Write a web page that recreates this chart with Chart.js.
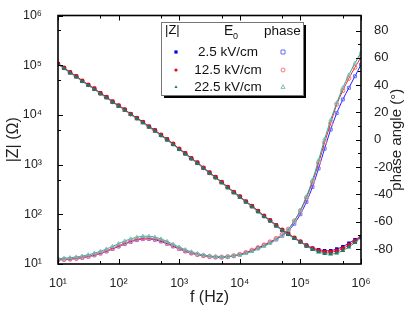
<!DOCTYPE html>
<html>
<head>
<meta charset="utf-8">
<script src="https://cdn.jsdelivr.net/npm/chart.js@4.4.1/dist/chart.umd.min.js"></script>
<style>
  html, body { margin: 0; padding: 0; background: #fff; }
</style>
</head>
<body>
<canvas id="impedanceChart" width="415" height="314"></canvas>
<script>
// measured frequencies (Hz), 10 points per decade
const freq = [
  10, 12.6, 15.8, 20.0, 25.1, 31.6, 39.8, 50.1, 63.1, 79.4,
  100, 126, 158, 200, 251, 316, 398, 501, 631, 794,
  1000, 1259, 1585, 1995, 2512, 3162, 3981, 5012, 6310, 7943,
  10000, 12589, 15849, 19953, 25119, 31623, 39811, 50119, 63096, 79433,
  100000, 125893, 158489, 199526, 251189, 316228, 398107, 501187, 630957, 794328, 1000000
];

// |Z| in ohm
const zLow = [
  107000, 89100, 72400, 60300, 49000, 40700, 33900, 27500, 22900, 18600,
  15500, 12900, 10500, 8710, 7240, 5890, 4900, 3980, 3240, 2630,
  2090, 1700, 1350, 1100, 871, 692, 562, 447, 355, 282,
  229, 182, 148, 117, 93.3, 75.9, 60.3, 49.0, 40.7, 33.9,
  28.2, 24.0, 20.9, 19.5, 18.6, 18.6, 20.0, 22.4, 26.3, 30.9, 35.5
];
const zMid = [
  106000, 88200, 71700, 59700, 48500, 40300, 33600, 27200, 22700, 18400,
  15300, 12800, 10400, 8620, 7170, 5830, 4850, 3940, 3210, 2600,
  2070, 1680, 1340, 1090, 862, 685, 556, 443, 351, 279,
  227, 180, 146, 116, 92.4, 75.1, 59.7, 48.5, 40.3, 33.6,
  28.2, 23.4, 20.4, 18.6, 17.4, 17.4, 18.2, 20.4, 24.0, 28.8, 34.7
];
const zHigh = [
  103000, 85500, 69500, 57900, 47000, 39100, 32500, 26400, 22000, 17900,
  14900, 12400, 10100, 8360, 6950, 5650, 4700, 3820, 3110, 2520,
  2010, 1630, 1300, 1060, 836, 664, 540, 429, 341, 271,
  220, 175, 142, 112, 89.6, 72.9, 57.9, 47.0, 39.1, 32.5,
  27.5, 22.9, 19.5, 17.4, 16.2, 15.8, 16.6, 18.6, 21.9, 26.9, 33.9
];

// phase angle in degrees
const phLow = [
  -88.0, -87.8, -87.5, -87.0, -86.4, -85.6, -84.6, -83.3, -81.8, -80.0,
  -78.2, -76.4, -74.8, -73.5, -72.8, -72.7, -73.3, -74.5, -76.2, -78.1,
  -80.0, -81.7, -83.1, -84.2, -85.0, -85.6, -86.0, -86.1, -85.8, -85.1,
  -84.1, -82.8, -81.2, -79.3, -77.3, -75.2, -73.0, -70.3, -66.8, -61.5,
  -54.5, -45.5, -34.5, -21.0, -6.5, 7.5, 19.5, 29.5, 38.0, 46.5, 55.0
];
const phMid = [
  -87.8, -87.6, -87.3, -86.8, -86.2, -85.3, -84.2, -82.9, -81.3, -79.5,
  -77.6, -75.8, -74.2, -72.9, -72.2, -72.1, -72.7, -73.9, -75.6, -77.6,
  -79.6, -81.4, -82.9, -84.1, -84.9, -85.5, -85.9, -86.0, -85.7, -85.0,
  -84.0, -82.6, -80.9, -79.0, -77.0, -74.8, -72.3, -69.3, -65.5, -59.5,
  -52.0, -42.5, -31.0, -17.0, -2.0, 12.0, 26.0, 36.0, 45.0, 53.0, 60.5
];
const phHigh = [
  -87.0, -86.8, -86.4, -85.9, -85.2, -84.3, -83.1, -81.7, -80.0, -78.1,
  -76.1, -74.2, -72.6, -71.4, -70.7, -70.7, -71.4, -72.7, -74.5, -76.5,
  -78.6, -80.5, -82.1, -83.4, -84.4, -85.1, -85.6, -85.8, -85.6, -85.0,
  -84.5, -83.3, -81.8, -80.0, -78.0, -75.8, -73.2, -70.0, -65.8, -59.5,
  -51.5, -41.5, -29.5, -15.0, 0.5, 14.5, 27.0, 38.0, 47.5, 56.0, 64.0
];

const fieldNames = ['2.5 kV/cm', '12.5 kV/cm', '22.5 kV/cm'];
const logTicks = [10, 100, 1000, 10000, 100000, 1000000];
const logMinor = [50, 500, 5000, 50000, 500000];
const phaseTicks = [-80, -60, -40, -20, 0, 20, 40, 60, 80];
const phaseMinor = [-70, -50, -30, -10, 10, 30, 50, 70];

const seriesStyle = [
  { line: '#2020ff', fill: '#0000e6', open: '#6a6aff', shape: 'rect', order: 3 },
  { line: '#ff2020', fill: '#f00000', open: '#ff7272', shape: 'circle', order: 2 },
  { line: '#22a89c', fill: '#177a70', open: '#7fbdb5', shape: 'triangle', order: 1 }
];

const FONT = 'Liberation Sans, Arial, sans-serif';
const SUP = '⁰¹²³⁴⁵⁶⁷⁸⁹';

function drawMarker(ctx, shape, x, y, r, filled) {
  ctx.beginPath();
  if (shape === 'rect') {
    ctx.rect(x - r, y - r, 2 * r, 2 * r);
  } else if (shape === 'circle') {
    ctx.arc(x, y, r, 0, Math.PI * 2);
  } else {
    ctx.moveTo(x, y - r * 1.1);
    ctx.lineTo(x + r, y + r * 0.7);
    ctx.lineTo(x - r, y + r * 0.7);
    ctx.closePath();
  }
  if (filled) ctx.fill(); else ctx.stroke();
}

const datasets = [];
[zLow, zMid, zHigh].forEach((arr, k) => {
  const s = seriesStyle[k];
  datasets.push({
    label: '|Z| ' + fieldNames[k],
    data: freq.map((f, i) => ({ x: f, y: arr[i] })),
    yAxisID: 'y',
    showLine: true,
    borderColor: s.line,
    borderWidth: 1,
    tension: 0.3,
    pointStyle: s.shape,
    pointRadius: s.shape === 'triangle' ? 2.8 : 2.4,
    pointBackgroundColor: s.fill,
    pointBorderColor: s.fill,
    pointBorderWidth: 0,
    order: s.order
  });
});
[phLow, phMid, phHigh].forEach((arr, k) => {
  const s = seriesStyle[k];
  datasets.push({
    label: 'phase ' + fieldNames[k],
    data: freq.map((f, i) => ({ x: f, y: arr[i] })),
    yAxisID: 'y2',
    showLine: true,
    borderColor: s.line,
    borderWidth: 1,
    tension: 0.3,
    pointStyle: s.shape,
    pointRadius: 2.1,
    pointBackgroundColor: 'rgba(255,255,255,0)',
    pointBorderColor: s.open,
    pointBorderWidth: 1,
    order: s.order
  });
});

// frame, inward tick marks, right title and the boxed legend
const decorations = {
  id: 'decorations',
  afterDraw(chart) {
    const { ctx, chartArea: a, scales } = chart;
    ctx.save();
    ctx.strokeStyle = '#000';
    ctx.lineWidth = 1;
    const seg = (x1, y1, x2, y2) => {
      ctx.beginPath(); ctx.moveTo(x1, y1); ctx.lineTo(x2, y2); ctx.stroke();
    };
    const px = v => Math.round(scales.x.getPixelForValue(v)) + 0.5;
    const py = v => Math.round(scales.y.getPixelForValue(v)) + 0.5;
    const py2 = v => Math.round(scales.y2.getPixelForValue(v)) + 0.5;
    logTicks.forEach(v => {
      seg(px(v), a.bottom, px(v), a.bottom - 5);
      seg(px(v), a.top, px(v), a.top + 5);
      seg(a.left, py(v), a.left + 5, py(v));
    });
    logMinor.forEach(v => {
      seg(px(v), a.bottom, px(v), a.bottom - 3);
      seg(px(v), a.top, px(v), a.top + 3);
      seg(a.left, py(v), a.left + 3, py(v));
    });
    phaseTicks.forEach(v => seg(a.right, py2(v), a.right - 5, py2(v)));
    phaseMinor.forEach(v => seg(a.right, py2(v), a.right - 3, py2(v)));

    ctx.lineWidth = 1.6;
    ctx.strokeRect(a.left, a.top, a.right - a.left, a.bottom - a.top);

    // right axis title, reading bottom to top
    ctx.fillStyle = '#222';
    ctx.font = '15px ' + FONT;
    ctx.textAlign = 'center';
    ctx.textBaseline = 'middle';
    ctx.translate(397, (a.top + a.bottom) / 2);
    ctx.rotate(-Math.PI / 2);
    ctx.fillText('phase angle (°)', 0, 0);
    ctx.setTransform(1, 0, 0, 1, 0, 0);

    // legend box
    const bx = 161, by = 22, bw = 142, bh = 73;
    ctx.fillStyle = '#000';
    ctx.fillRect(bx + 3, by + 3, bw, bh);
    ctx.fillStyle = '#fff';
    ctx.fillRect(bx, by, bw, bh);
    ctx.strokeStyle = '#777';
    ctx.lineWidth = 1;
    ctx.strokeRect(bx + 0.5, by + 0.5, bw, bh);

    ctx.fillStyle = '#111';
    ctx.textBaseline = 'middle';
    ctx.textAlign = 'left';
    ctx.font = '13px ' + FONT;
    ctx.fillText('|Z|', 165, 30);
    ctx.font = '14px ' + FONT;
    ctx.fillText('E', 224, 31);
    ctx.font = '9px ' + FONT;
    ctx.fillText('0', 233, 37);
    ctx.font = '13.5px ' + FONT;
    ctx.fillText('phase', 264, 31);

    const rowY = [52, 70, 87];
    fieldNames.forEach((name, k) => {
      const s = seriesStyle[k];
      ctx.fillStyle = '#111';
      ctx.textAlign = 'center';
      ctx.font = '13.5px ' + FONT;
      ctx.fillText(name, 228, rowY[k]);
      ctx.fillStyle = s.fill;
      drawMarker(ctx, s.shape, 176, rowY[k], 1.6, true);
      ctx.strokeStyle = s.open;
      ctx.lineWidth = 1;
      drawMarker(ctx, s.shape, 283, rowY[k], 2, false);
    });
    ctx.restore();
  }
};

const tickFont = { family: FONT, size: 12.5 };

new Chart(document.getElementById('impedanceChart').getContext('2d'), {
  type: 'scatter',
  data: { datasets },
  options: {
    responsive: false,
    animation: false,
    devicePixelRatio: 1,
    layout: { padding: { top: 13, left: 0, right: 0, bottom: 0 } },
    plugins: {
      legend: { display: false },
      tooltip: { enabled: false }
    },
    scales: {
      x: {
        type: 'logarithmic',
        position: 'bottom',
        min: 10,
        max: 1000000,
        afterBuildTicks: s => { s.ticks = logTicks.map(v => ({ value: v })); },
        afterFit: s => { s.height = 50; },
        grid: { display: false },
        border: { display: false },
        ticks: {
          autoSkip: false,
          maxRotation: 0,
          padding: 4,
          color: '#222',
          font: tickFont,
          callback: v => '10' + SUP[Math.round(Math.log10(v))]
        },
        title: {
          display: true,
          text: 'f (Hz)',
          color: '#222',
          font: { family: FONT, size: 16 },
          padding: { top: 0, bottom: 7 }
        }
      },
      y: {
        type: 'logarithmic',
        position: 'left',
        min: 10,
        max: 1000000,
        afterBuildTicks: s => { s.ticks = logTicks.map(v => ({ value: v })); },
        afterFit: s => { s.width = 58; },
        grid: { display: false },
        border: { display: false },
        ticks: {
          autoSkip: false,
          padding: 8,
          color: '#222',
          font: tickFont,
          callback: v => '10' + SUP[Math.round(Math.log10(v))]
        },
        title: {
          display: true,
          text: '|Z| (Ω)',
          color: '#222',
          font: { family: FONT, size: 16 },
          padding: { top: 4, bottom: 0 }
        }
      },
      y2: {
        type: 'linear',
        position: 'right',
        min: -91,
        max: 91,
        afterBuildTicks: s => { s.ticks = phaseTicks.map(v => ({ value: v })); },
        afterFit: s => { s.width = 54; },
        grid: { display: false },
        border: { display: false },
        ticks: {
          autoSkip: false,
          padding: 5,
          color: '#222',
          font: { family: FONT, size: 13 }
        }
      }
    }
  },
  plugins: [decorations]
});
</script>
</body>
</html>
